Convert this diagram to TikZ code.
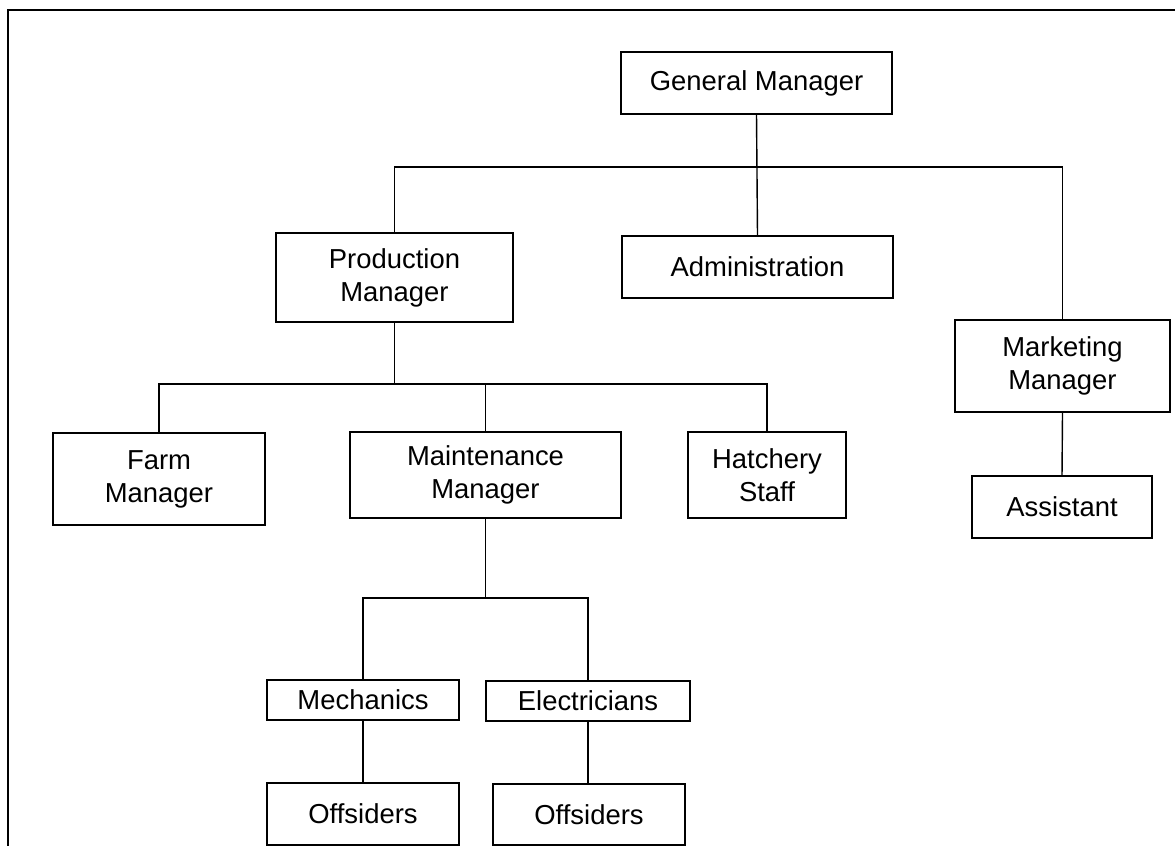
\documentclass[tikz,border=0pt]{standalone}
\usepackage{fontspec}
\setmainfont{Liberation Sans}
\usetikzlibrary{calc}

\tikzset{
  box/.style 2 args={draw, line width=1pt, inner sep=0pt, align=center,
    minimum width=#1*0.025cm, minimum height=#2*0.025cm,
    font=\fontsize{19.5}{23.5}\selectfont},
  link/.style={line width=1pt}
}

\begin{document}
\begin{tikzpicture}[x=0.025cm, y=-0.025cm]
        \useasboundingbox (0, 0) rectangle (1175, 846);
        \draw [line width=1.4pt] (8, 846) -- (8, 10) -- (1175, 10);

        % top level
        \node [box={271}{62}] (gm) at (756.5, 83) {General Manager};
        \node [box={271}{62}] (admin) at (757.5, 267) {Administration};
        \node [box={237}{89}] (pm) at (394.5, 277.5) {Production\\Manager};
        \node [box={215}{92}] (mkt) at (1062.5, 366) {Marketing\\Manager};
        \node [box={180}{62}] (asst) at (1062, 507) {Assistant};

        % production
        \node [box={212}{92}] (farm) at (159, 479) {Farm\\Manager};
        \node [box={271}{86}] (maint) at (485.5, 475) {Maintenance\\Manager};
        \node [box={158}{86}] (hatch) at (767, 475) {Hatchery\\Staff};

        % maintenance
        \node [box={192}{40}] (mech) at (363, 700) {Mechanics};
        \node [box={204}{40}] (elec) at (588, 701) {Electricians};
        \node [box={192}{62}] (offa) at (363, 814) {Offsiders};
        \node [box={192}{61}] (offb) at (589, 814.5) {Offsiders};

        \coordinate (jgm) at (756.5, 167);
        \coordinate (jpm) at (394.5, 384);
        \coordinate (jmaint) at (485.5, 598);

        \draw [link] (gm.south) -- (admin.north);
        \draw [link] (pm.north) |- (jgm) -| (mkt.north);
        \draw [link] (mkt.south) -- (asst.north);

        \draw [link] (pm.south) -- (jpm);
        \draw [link] (farm.north) |- (jpm) -| (hatch.north);
        \draw [link] (maint.north) -- (maint.north |- jpm);

        \draw [link] (maint.south) -- (jmaint);
        \draw [link] (mech.north) |- (jmaint) -| (elec.north);
        \draw [link] (mech.south) -- (mech.south |- offa.north);
        \draw [link] (elec.south) -- (elec.south |- offb.north);
\end{tikzpicture}
\end{document}
